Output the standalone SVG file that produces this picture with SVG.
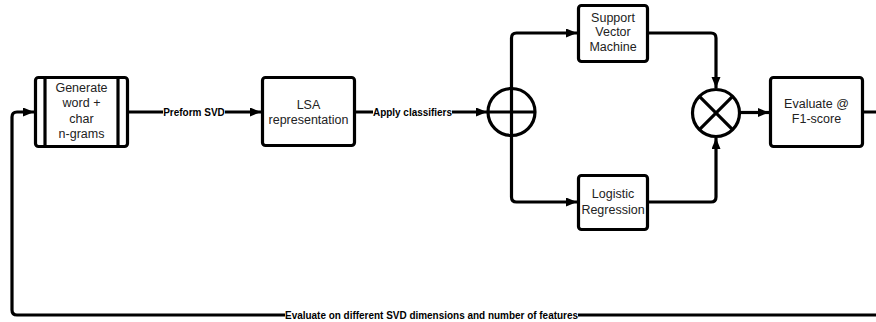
<svg xmlns="http://www.w3.org/2000/svg" width="876" height="322" viewBox="0 0 876 322">
<style>
.box{fill:#fff;stroke:#000;stroke-width:3.2}
.t{font-family:"Liberation Sans",Arial,sans-serif;font-size:12.5px;fill:#222;text-anchor:middle}
.c{fill:none;stroke:#000;stroke-width:3.2;stroke-linejoin:round}
.lb{font-family:"Liberation Sans",Arial,sans-serif;font-size:10px;font-weight:bold;fill:#000;text-anchor:middle}
.bg{fill:#fff}
</style>
<defs>
<marker id="ah" markerUnits="userSpaceOnUse" markerWidth="12" markerHeight="10" refX="11" refY="4.5" orient="auto">
<path d="M0,0 L11,4.5 L0,9 z" fill="#000"/>
</marker>
</defs>
<g id="connectors">
<path class="c" d="M128,112 H261" marker-end="url(#ah)"/>
<rect class="bg" x="163" y="106" width="62" height="12"/>
<text class="lb" x="194" y="115.5">Preform SVD</text>
<path class="c" d="M355,112 H487" marker-end="url(#ah)"/>
<rect class="bg" x="373" y="106" width="79" height="12"/>
<text class="lb" x="412.5" y="115.5" textLength="79" lengthAdjust="spacingAndGlyphs">Apply classifiers</text>
<path class="c" d="M511.5,88.5 V38 Q511.5,33 516.5,33 H577" marker-end="url(#ah)"/>
<path class="c" d="M511.5,136 V197 Q511.5,202 516.5,202 H577" marker-end="url(#ah)"/>
<path class="c" d="M648,33 H711 Q716,33 716,38 V88" marker-end="url(#ah)"/>
<path class="c" d="M648,202 H711 Q716,202 716,197 V138" marker-end="url(#ah)"/>
<path class="c" d="M740,112.5 H769" marker-end="url(#ah)"/>
<path class="c" d="M863,112 H884 V315 H17 Q12,315 12,310 V117 Q12,112 17,112 H34" marker-end="url(#ah)"/>
<rect class="bg" x="285" y="309" width="293" height="12"/>
<text class="lb" x="431.5" y="318.5" font-size="9.5" textLength="293" lengthAdjust="spacingAndGlyphs">Evaluate on different SVD dimensions and number of features</text>
</g>
<g id="generate">
<rect class="box" x="35.5" y="77.5" width="92" height="69" rx="3"/>
<line x1="45" y1="77.5" x2="45" y2="146.5" stroke="#000" stroke-width="3.2"/>
<line x1="118" y1="77.5" x2="118" y2="146.5" stroke="#000" stroke-width="3.2"/>
<text class="t" x="81.5" y="92">Generate</text>
<text class="t" x="81.5" y="107">word +</text>
<text class="t" x="81.5" y="123">char</text>
<text class="t" x="81.5" y="138">n-grams</text>
</g>
<g id="lsa">
<rect class="box" x="262.5" y="77.5" width="92" height="68" rx="3"/>
<text class="t" x="308.5" y="109">LSA</text>
<text class="t" x="308.5" y="123.5">representation</text>
</g>
<g id="split">
<circle cx="511.5" cy="112" r="23.5" fill="#fff" stroke="#000" stroke-width="3.2"/>
<line x1="511.5" y1="88.5" x2="511.5" y2="135.5" stroke="#000" stroke-width="3.2"/>
<line x1="488" y1="112" x2="535" y2="112" stroke="#000" stroke-width="3.2"/>
</g>
<g id="svm">
<rect class="box" x="578.5" y="5.5" width="69" height="56" rx="3"/>
<text class="t" x="613" y="21.5">Support</text>
<text class="t" x="613" y="36">Vector</text>
<text class="t" x="613" y="51">Machine</text>
</g>
<g id="lr">
<rect class="box" x="578.5" y="175.5" width="69" height="54" rx="3"/>
<text class="t" x="613" y="197.5">Logistic</text>
<text class="t" x="613" y="214">Regression</text>
</g>
<g id="merge">
<circle cx="716" cy="113" r="23.5" fill="#fff" stroke="#000" stroke-width="3.2"/>
<line x1="699.4" y1="96.4" x2="732.6" y2="129.6" stroke="#000" stroke-width="3.2"/>
<line x1="732.6" y1="96.4" x2="699.4" y2="129.6" stroke="#000" stroke-width="3.2"/>
</g>
<g id="evaluate">
<rect class="box" x="770.5" y="77.5" width="92" height="69" rx="3"/>
<text class="t" x="816.5" y="108">Evaluate @</text>
<text class="t" x="816.5" y="123">F1-score</text>
</g>
</svg>
